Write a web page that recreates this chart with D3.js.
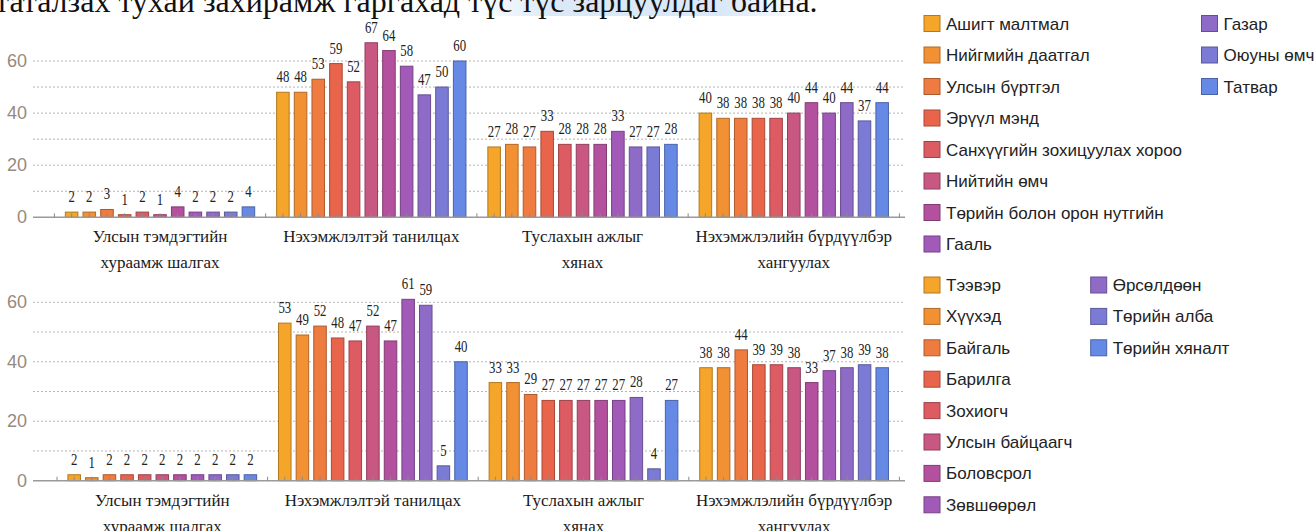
<!DOCTYPE html>
<html><head><meta charset="utf-8">
<script src="https://cdn.jsdelivr.net/npm/d3@7"></script>
<style>
html,body{margin:0;padding:0;background:#fff;overflow:hidden;}
svg{display:block;}
</style></head><body>
<svg id="c" width="1315" height="531"></svg>
<script>
// ---------- data ----------
const headerText = "таталзах тухай захирамж гаргахад түс түс зарцуулдаг байна.";
const groups = [
  ["Улсын тэмдэгтийн", "хураамж шалгах"],
  ["Нэхэмжлэлтэй танилцах"],
  ["Туслахын ажлыг", "хянах"],
  ["Нэхэмжлэлийн бүрдүүлбэр", "хангуулах"]
];
const seriesTop = ["Ашигт малтмал","Нийгмийн даатгал","Улсын бүртгэл","Эрүүл мэнд","Санхүүгийн зохицуулах хороо","Нийтийн өмч","Төрийн болон орон нутгийн","Гааль","Газар","Оюуны өмч","Татвар"];
const seriesBottom = ["Тээвэр","Хүүхэд","Байгаль","Барилга","Зохиогч","Улсын байцаагч","Боловсрол","Зөвшөөрөл","Өрсөлдөөн","Төрийн алба","Төрийн хяналт"];
// values per group (rows) x series (columns)
const valuesTop = [
  [2, 2, 3, 1, 2, 1, 4, 2, 2, 2, 4],
  [48, 48, 53, 59, 52, 67, 64, 58, 47, 50, 60],
  [27, 28, 27, 33, 28, 28, 28, 33, 27, 27, 28],
  [40, 38, 38, 38, 38, 40, 44, 40, 44, 37, 44]
];
const valuesBottom = [
  [2, 1, 2, 2, 2, 2, 2, 2, 2, 2, 2],
  [53, 49, 52, 48, 47, 52, 47, 61, 59, 5, 40],
  [33, 33, 29, 27, 27, 27, 27, 27, 28, 4, 27],
  [38, 38, 44, 39, 39, 38, 33, 37, 38, 39, 38]
];
const colors = ["#f6a52b","#f29034","#ee7c40","#e8654c","#dd5b63","#c85781","#b4519e","#a25ab8","#8f6bc8","#7b7bd6","#6689e5"];
const yTickLabels = [0, 20, 40, 60];
const gridValues = [10, 20, 30, 40, 50, 60];

// ---------- drawing ----------
const svg = d3.select("#c");

// header text (document line, cut at top)
const defs = svg.append("defs");
const hg = defs.append("linearGradient").attr("id","hl").attr("x1","0").attr("x2","1");
hg.append("stop").attr("offset","0").attr("stop-color","#d6e6f7").attr("stop-opacity",0);
hg.append("stop").attr("offset","0.25").attr("stop-color","#d6e6f7").attr("stop-opacity",0.9);
hg.append("stop").attr("offset","0.75").attr("stop-color","#d6e6f7").attr("stop-opacity",0.9);
hg.append("stop").attr("offset","1").attr("stop-color","#d6e6f7").attr("stop-opacity",0);
svg.append("rect").attr("x",470).attr("y",0).attr("width",340).attr("height",16).attr("fill","url(#hl)");
svg.append("text").attr("x",-5).attr("y",12)
  .attr("font-family","Liberation Serif, serif").attr("font-size",32).attr("fill","#111")
  .text(headerText);

function panel(cfg, values, series) {
  const g = svg.append("g");
  const y = d3.scaleLinear().domain([0, 60]).range([cfg.y0, cfg.y60]);
  const x0 = d3.scaleBand().domain(d3.range(groups.length)).range([cfg.xStart, cfg.xEnd]).paddingInner(0).paddingOuter(0);
  const x1 = d3.scaleBand().domain(d3.range(series.length)).range([0, x0.bandwidth()]).paddingInner(0.29).paddingOuter(0.62);

  // grid
  g.selectAll("line.grid").data(gridValues).join("line")
    .attr("x1", cfg.axisX1).attr("x2", cfg.axisX2)
    .attr("y1", d => y(d)).attr("y2", d => y(d))
    .attr("stroke", "#b4b4b4").attr("stroke-width", 1).attr("stroke-dasharray", "2,2");

  // y tick labels
  g.selectAll("text.yt").data(yTickLabels).join("text")
    .attr("x", 27).attr("y", d => y(d) + 6)
    .attr("text-anchor", "end")
    .attr("font-family", "Liberation Sans, sans-serif").attr("font-size", 18)
    .attr("fill", "#978a7c").text(d => d);

  // bars
  const gg = g.selectAll("g.grp").data(values).join("g")
    .attr("transform", (d, i) => `translate(${x0(i)},0)`);
  gg.selectAll("rect").data(d => d).join("rect")
    .attr("x", (d, j) => x1(j)).attr("width", x1.bandwidth())
    .attr("y", d => y(d)).attr("height", d => y(0) - y(d))
    .attr("fill", (d, j) => colors[j])
    .attr("stroke", (d, j) => d3.color(colors[j]).darker(0.9))
    .attr("stroke-width", 1);

  // axis line
  g.append("line").attr("x1", cfg.axisX1).attr("x2", cfg.axisX2)
    .attr("y1", y(0)).attr("y2", y(0)).attr("stroke", "#9a9a9a").attr("stroke-width", 1.6);
  // ticks at bar centres and group boundaries
  const tickXs = [];
  values.forEach((row, i) => row.forEach((v, j) => tickXs.push(x0(i) + x1(j) + x1.bandwidth() / 2)));
  for (let i = 0; i <= groups.length; i++) tickXs.push(cfg.xStart + i * x0.bandwidth());
  g.selectAll("line.tk").data(tickXs).join("line")
    .attr("x1", d => d).attr("x2", d => d)
    .attr("y1", y(0)).attr("y2", y(0) - 4)
    .attr("stroke", "#8a8a8a").attr("stroke-width", 1);

  // value labels
  gg.selectAll("text").data(d => d).join("text")
    .attr("transform", (d, j) => `translate(${x1(j) + x1.bandwidth() / 2},${y(d) - 10}) scale(0.8,1)`)
    .attr("text-anchor", "middle")
    .attr("font-family", "Liberation Serif, serif").attr("font-size", 16)
    .attr("fill", "#222").text(d => d);

  // category labels
  groups.forEach((lines, i) => {
    lines.forEach((ln, k) => {
      g.append("text").attr("x", x0(i) + x0.bandwidth() / 2).attr("y", y(0) + 25 + k * 26)
        .attr("text-anchor", "middle")
        .attr("font-family", "Liberation Serif, serif").attr("font-size", 17)
        .attr("fill", "#1a1a1a").text(ln);
    });
  });

  // legend
  series.forEach((s, j) => {
    const col = Math.floor(j / 8), row = j % 8;
    const lx = cfg.legX[col], ly = cfg.legY + row * cfg.legStep;
    g.append("rect").attr("x", lx).attr("y", ly - 8).attr("width", 16).attr("height", 16)
      .attr("fill", colors[j]).attr("stroke", d3.color(colors[j]).darker(0.9)).attr("stroke-width", 1);
    g.append("text").attr("x", lx + 22).attr("y", ly + 6)
      .attr("font-family", "Liberation Sans, sans-serif").attr("font-size", 17)
      .attr("fill", "#222").text(s);
  });
}

panel({ y0: 217.3, y60: 61, xStart: 54.4, xEnd: 899.4, axisX1: 33, axisX2: 905,
        legX: [924, 1201.5], legY: 23.5, legStep: 31.5 }, valuesTop, seriesTop);
panel({ y0: 480.7, y60: 302.3, xStart: 57, xEnd: 899.4, axisX1: 33, axisX2: 905,
        legX: [924, 1090.7], legY: 285, legStep: 31.4 }, valuesBottom, seriesBottom);
</script>
</body></html>
